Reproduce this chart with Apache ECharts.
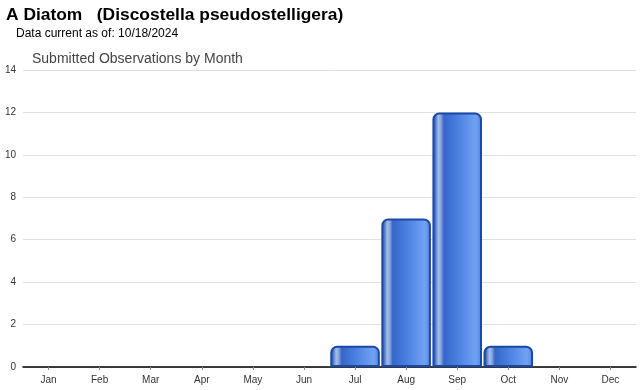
<!DOCTYPE html>
<html><head><meta charset="utf-8">
<script src="https://cdn.jsdelivr.net/npm/echarts@6/dist/echarts.min.js"></script>
<style>html,body{margin:0;padding:0;background:#fff}#c{width:640px;height:390px}</style>
</head><body><div id="c"></div>
<script>
const months = ['Jan','Feb','Mar','Apr','May','Jun','Jul','Aug','Sep','Oct','Nov','Dec'];
const counts = [0,0,0,0,0,0,1,7,12,1,0,0];
const yTicks = [0,2,4,6,8,10,12,14];

const chart = echarts.init(document.getElementById('c'), null, {renderer:'canvas'});
const barGrad = new echarts.graphic.LinearGradient(0,0,1,0,[
  {offset:0, color:'#2456bc'},
  {offset:0.06, color:'#4a78cc'},
  {offset:0.12, color:'#a6bce4'},
  {offset:0.17, color:'#8aa6dc'},
  {offset:0.23, color:'#3466c8'},
  {offset:0.5, color:'#4a7fdf'},
  {offset:0.88, color:'#72a2f2'},
  {offset:1, color:'#4e80e0'}
]);
chart.setOption({
  animation:false,
  title:[
    {text:'A Diatom   (Discostella pseudostelligera)', left:6, top:7, padding:0,
     textStyle:{fontFamily:'Liberation Sans, Arial', fontSize:17.4, fontWeight:'bold', color:'#000'}},
    {text:'Data current as of: 10/18/2024', left:16, top:28, padding:0,
     textStyle:{fontFamily:'Liberation Sans, Arial', fontSize:12, fontWeight:'normal', color:'#000'}},
    {text:'Submitted Observations by Month', left:32, top:52, padding:0,
     textStyle:{fontFamily:'Liberation Sans, Arial', fontSize:14, fontWeight:'normal', color:'#444'}}
  ],
  grid:{left:23, right:4, top:70, bottom:23, containLabel:false},
  xAxis:{type:'category', data:months,
    axisLine:{lineStyle:{color:'#000', width:1.5}},
    axisTick:{show:true, alignWithLabel:true, length:3, lineStyle:{color:'#888'}},
    axisLabel:{fontFamily:'Liberation Sans, Arial', fontSize:10, color:'#333', margin:8}},
  yAxis:{type:'value', min:yTicks[0], max:yTicks[yTicks.length-1], interval:2,
    axisLine:{show:false}, axisTick:{show:false},
    splitLine:{lineStyle:{color:'#e0e0e0'}},
    axisLabel:{fontFamily:'Liberation Sans, Arial', fontSize:10, color:'#333', margin:7}},
  series:[{type:'bar', data:counts.map(v => v === 0 ? null : v), barCategoryGap:'3%',
    itemStyle:{color:barGrad, borderColor:'#1a48a8', borderWidth:2, borderRadius:[6,6,0,0]}}]
});
</script></body></html>
